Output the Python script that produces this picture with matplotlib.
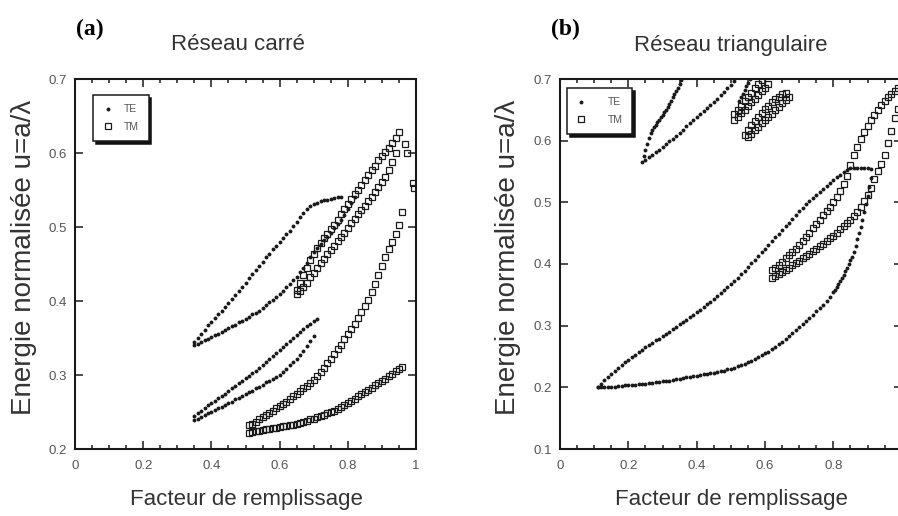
import matplotlib
matplotlib.use("Agg")
import matplotlib.pyplot as plt
from matplotlib.ticker import MultipleLocator

plt.rcParams['font.family'] = ['Liberation Sans', 'DejaVu Sans']

# ---------------------------------------------------------------
# (a) square lattice : gap edges vs filling factor
# ---------------------------------------------------------------
ff_a_te1_up = [0.35, 0.36, 0.37, 0.38, 0.39, 0.40, 0.41, 0.42, 0.43, 0.44,
               0.45, 0.46, 0.47, 0.48, 0.49, 0.50, 0.51, 0.52, 0.53, 0.54,
               0.55, 0.56, 0.57, 0.58, 0.59, 0.60, 0.61, 0.62, 0.63, 0.64,
               0.65, 0.66, 0.67, 0.68, 0.69, 0.70, 0.71, 0.72, 0.73, 0.74,
               0.75, 0.76, 0.77, 0.78]
te1_upper_a = [.345, .350, .356, .361, .367, .372, .377, .382, .387, .392,
               .397, .403, .408, .414, .419, .425, .431, .436, .442, .447,
               .453, .459, .464, .470, .475, .480, .485, .490, .495, .501,
               .507, .513, .519, .524, .528, .531, .533, .535, .536, .537,
               .538, .539, .540, .541]

ff_a_te1_low = [0.35, 0.36, 0.37, 0.38, 0.39, 0.40, 0.41, 0.42, 0.43, 0.44,
                0.45, 0.46, 0.47, 0.48, 0.49, 0.50, 0.51, 0.52, 0.53, 0.54,
                0.55, 0.56, 0.57, 0.58, 0.59, 0.60, 0.61, 0.62, 0.63, 0.64,
                0.65, 0.66, 0.67, 0.68, 0.69, 0.70, 0.71, 0.72, 0.73, 0.74,
                0.75, 0.76, 0.77, 0.78, 0.79, 0.80, 0.81, 0.82]
te1_lower_a = [.340, .342, .344, .347, .349, .351, .354, .356, .358, .361,
               .363, .366, .368, .371, .373, .376, .379, .382, .384, .387,
               .391, .394, .398, .402, .406, .410, .414, .419, .423, .428,
               .433, .439, .445, .452, .459, .466, .471, .477, .482, .487,
               .492, .498, .504, .510, .516, .524, .532, .540]

ff_a_te2_up = [0.35, 0.36, 0.37, 0.38, 0.39, 0.40, 0.41, 0.42, 0.43, 0.44,
               0.45, 0.46, 0.47, 0.48, 0.49, 0.50, 0.51, 0.52, 0.53, 0.54,
               0.55, 0.56, 0.57, 0.58, 0.59, 0.60, 0.61, 0.62, 0.63, 0.64,
               0.65, 0.66, 0.67, 0.68, 0.69, 0.70, 0.71]
te2_upper_a = [.245, .249, .252, .255, .259, .262, .265, .269, .272, .275,
               .279, .282, .285, .289, .292, .296, .299, .303, .306, .310,
               .314, .318, .322, .326, .330, .334, .338, .342, .346, .350,
               .354, .358, .362, .366, .369, .373, .376]

ff_a_te2_low = [0.35, 0.36, 0.37, 0.38, 0.39, 0.40, 0.41, 0.42, 0.43, 0.44,
                0.45, 0.46, 0.47, 0.48, 0.49, 0.50, 0.51, 0.52, 0.53, 0.54,
                0.55, 0.56, 0.57, 0.58, 0.59, 0.60, 0.61, 0.62, 0.63, 0.64,
                0.65, 0.66, 0.67, 0.68, 0.69, 0.70]
te2_lower_a = [.239, .241, .243, .246, .248, .250, .253, .255, .257, .260,
               .262, .264, .267, .269, .272, .274, .277, .279, .282, .284,
               .287, .290, .292, .295, .297, .300, .304, .308, .313, .317,
               .322, .327, .333, .339, .346, .353]

ff_a_tm1 = [0.51, 0.52, 0.53, 0.54, 0.55, 0.56, 0.57, 0.58, 0.59,
            0.60, 0.61, 0.62, 0.63, 0.64, 0.65, 0.66, 0.67, 0.68, 0.69,
            0.70, 0.71, 0.72, 0.73, 0.74, 0.75, 0.76, 0.77, 0.78, 0.79,
            0.80, 0.81, 0.82, 0.83, 0.84, 0.85, 0.86, 0.87, 0.88, 0.89,
            0.90, 0.91, 0.92, 0.93, 0.94, 0.95, 0.96]
tm1_lower_a = [.222, .223, .224, .225, .226, .227, .227, .228, .229,
               .230, .231, .231, .232, .233, .234, .235, .237, .238, .240,
               .241, .243, .245, .246, .248, .250, .252, .254, .257, .259,
               .262, .265, .268, .271, .274, .277, .280, .283, .286, .289,
               .292, .295, .299, .302, .305, .308, .311]
tm1_upper_a = [.232, .234, .237, .240, .243, .246, .249, .252, .255,
               .258, .261, .264, .268, .271, .274, .278, .282, .285, .289,
               .293, .299, .304, .310, .316, .322, .328, .335, .341, .348,
               .355, .362, .369, .377, .385, .393, .402, .412, .423, .435,
               .447, .459, .470, .480, .490, .503, .520]

ff_a_tm2_up = [0.65, 0.66, 0.67, 0.68, 0.69,
               0.70, 0.71, 0.72, 0.73, 0.74, 0.75, 0.76, 0.77, 0.78, 0.79,
               0.80, 0.81, 0.82, 0.83, 0.84, 0.85, 0.86, 0.87, 0.88, 0.89,
               0.90, 0.91, 0.92, 0.93, 0.94, 0.95]
tm2_upper_a = [.415, .425, .435, .445, .455,
               .464, .471, .478, .485, .491, .497, .503, .510, .517, .524,
               .531, .538, .544, .550, .557, .564, .570, .577, .583, .590,
               .596, .602, .607, .613, .620, .628]

ff_a_tm2_low = [0.65, 0.66, 0.67, 0.68, 0.69,
                0.70, 0.71, 0.72, 0.73, 0.74, 0.75, 0.76, 0.77, 0.78, 0.79,
                0.80, 0.81, 0.82, 0.83, 0.84, 0.85, 0.86, 0.87, 0.88, 0.89,
                0.90, 0.91, 0.92, 0.93, 0.94]
tm2_lower_a = [.410, .413, .419, .425, .432,
               .438, .444, .451, .457, .463, .469, .475, .481, .487, .492,
               .498, .505, .511, .517, .523, .529, .535, .541, .547, .554,
               .561, .568, .577, .588, .600]

ff_a_tm_edge = [0.968, 0.975, 0.990, 0.995]
tm_edge_a = [.612, .600, .560, .553]

# ---------------------------------------------------------------
# (b) triangular lattice
# ---------------------------------------------------------------
ff_b_te1_up = [0.11, 0.12, 0.13, 0.14, 0.15, 0.16, 0.17, 0.18, 0.19,
               0.20, 0.21, 0.22, 0.23, 0.24, 0.25, 0.26, 0.27, 0.28, 0.29,
               0.30, 0.31, 0.32, 0.33, 0.34, 0.35, 0.36, 0.37, 0.38, 0.39,
               0.40, 0.41, 0.42, 0.43, 0.44, 0.45, 0.46, 0.47, 0.48, 0.49,
               0.50, 0.51, 0.52, 0.53, 0.54, 0.55, 0.56, 0.57, 0.58, 0.59,
               0.60, 0.61, 0.62, 0.63, 0.64, 0.65, 0.66, 0.67, 0.68, 0.69,
               0.70, 0.71, 0.72, 0.73, 0.74, 0.75, 0.76, 0.77, 0.78, 0.79,
               0.80, 0.81, 0.82, 0.83, 0.84, 0.85, 0.86, 0.87, 0.88, 0.89,
               0.90, 0.91]
te1_upper_b = [.200, .206, .212, .217, .222, .227, .232, .236, .241,
               .245, .249, .253, .257, .261, .265, .268, .272, .276, .279,
               .283, .287, .290, .294, .298, .302, .306, .310, .314, .318,
               .322, .326, .330, .335, .339, .344, .348, .353, .358, .363,
               .368, .373, .378, .384, .389, .395, .401, .407, .413, .419,
               .425, .431, .437, .443, .449, .455, .461, .467, .473, .479,
               .486, .491, .497, .502, .507, .512, .517, .522, .527, .532,
               .537, .541, .545, .549, .552, .555, .555, .555, .555, .555,
               .555, .554]

ff_b_te1_low = [0.11, 0.12, 0.13, 0.14, 0.15, 0.16, 0.17, 0.18, 0.19,
                0.20, 0.21, 0.22, 0.23, 0.24, 0.25, 0.26, 0.27, 0.28, 0.29,
                0.30, 0.31, 0.32, 0.33, 0.34, 0.35, 0.36, 0.37, 0.38, 0.39,
                0.40, 0.41, 0.42, 0.43, 0.44, 0.45, 0.46, 0.47, 0.48, 0.49,
                0.50, 0.51, 0.52, 0.53, 0.54, 0.55, 0.56, 0.57, 0.58, 0.59,
                0.60, 0.61, 0.62, 0.63, 0.64, 0.65, 0.66, 0.67, 0.68, 0.69,
                0.70, 0.71, 0.72, 0.73, 0.74, 0.75, 0.76, 0.77, 0.78, 0.79,
                0.80, 0.805, 0.81, 0.815, 0.82, 0.825, 0.83, 0.835, 0.84,
                0.845, 0.85, 0.855, 0.86, 0.865, 0.87, 0.875, 0.88, 0.885,
                0.89, 0.895, 0.90, 0.905, 0.91]
te1_lower_b = [.200, .200, .200, .201, .201, .201, .202, .202, .203,
               .203, .204, .204, .205, .205, .206, .207, .207, .208, .209,
               .210, .210, .211, .212, .213, .214, .215, .216, .217, .218,
               .219, .220, .221, .222, .223, .224, .225, .226, .227, .229,
               .230, .232, .234, .236, .238, .241, .243, .246, .249, .252,
               .255, .258, .262, .266, .270, .274, .278, .283, .288, .293,
               .298, .303, .308, .313, .318, .323, .329, .334, .340, .347,
               .354, .358, .362, .367, .372, .377, .382, .388, .394,
               .400, .406, .412, .420, .430, .440, .450, .460, .472,
               .484, .497, .510, .525, .540]

ff_b_te2_left = [0.240, 0.245, 0.250, 0.255, 0.260, 0.265, 0.270, 0.275,
                 0.280, 0.285, 0.290, 0.295, 0.300, 0.305, 0.310, 0.315,
                 0.320, 0.325, 0.330, 0.335, 0.340, 0.345, 0.350, 0.355]
te2_left_b = [.565, .575, .585, .595, .604, .612, .618, .622,
              .626, .630, .634, .638, .642, .646, .650, .655,
              .660, .665, .670, .675, .680, .686, .692, .698]

ff_b_te2_right = [0.25, 0.26, 0.27, 0.28, 0.29, 0.30, 0.31, 0.32, 0.33,
                  0.34, 0.35, 0.36, 0.37, 0.38, 0.39, 0.40, 0.41, 0.42,
                  0.43, 0.44, 0.45, 0.46, 0.47, 0.48, 0.49, 0.50, 0.51]
te2_right_b = [.569, .573, .577, .581, .585, .590, .594, .599, .603,
               .608, .613, .618, .623, .628, .633, .638, .643, .648,
               .653, .658, .663, .668, .674, .679, .685, .691, .697]

ff_b_te3 = [0.525, 0.530, 0.535, 0.540, 0.545, 0.550, 0.555]
te3_b = [.664, .670, .676, .682, .688, .694, .700]

ff_b_c1_up = [0.51, 0.52, 0.53, 0.54, 0.55, 0.56, 0.57, 0.58, 0.59]
tm_c1_upper_b = [.643, .650, .657, .664, .671, .678, .685, .692, .699]
ff_b_c1_low = [0.51, 0.52, 0.53, 0.54, 0.55, 0.56, 0.57, 0.58, 0.59, 0.60, 0.61]
tm_c1_lower_b = [.634, .639, .645, .650, .656, .662, .668, .674, .680, .686, .692]

ff_b_c2_up = [0.54, 0.55, 0.56, 0.57, 0.58, 0.59, 0.60, 0.61, 0.62, 0.63,
              0.64, 0.65, 0.66]
tm_c2_upper_b = [.610, .618, .625, .632, .639, .645, .651, .657, .662, .667,
                 .671, .675, .678]
ff_b_c2_low = [0.55, 0.56, 0.57, 0.58, 0.59, 0.60, 0.61, 0.62, 0.63, 0.64,
               0.65, 0.66, 0.67]
tm_c2_lower_b = [.606, .611, .617, .622, .628, .633, .639, .644, .650, .655,
                 .661, .666, .671]

ff_b_tm = [0.62, 0.63, 0.64, 0.65, 0.66, 0.67, 0.68, 0.69,
           0.70, 0.71, 0.72, 0.73, 0.74, 0.75, 0.76, 0.77, 0.78, 0.79,
           0.80, 0.81, 0.82, 0.83, 0.84, 0.85, 0.86, 0.87, 0.88, 0.89,
           0.90, 0.91, 0.92, 0.93, 0.94, 0.95, 0.96, 0.97, 0.98, 0.99]
tm_upper_b = [.390, .394, .399, .404, .409, .414, .419, .425,
              .431, .437, .444, .451, .458, .465, .472, .479, .486, .493,
              .500, .509, .519, .530, .543, .560, .577, .590, .602, .614,
              .624, .633, .642, .650, .658, .665, .671, .676, .681, .685]
tm_lower_b = [.378, .381, .384, .387, .391, .394, .398, .401,
              .405, .409, .413, .417, .421, .425, .429, .433, .437, .442,
              .446, .451, .456, .461, .466, .472, .478, .485, .493, .502,
              .512, .524, .538, .551, .562, .576, .596, .616, .636, .652]

# axis ticks
x_ticks = [0, 0.2, 0.4, 0.6, 0.8, 1.0]
x_ticklabels_a = ['0', '0.2', '0.4', '0.6', '0.8', '1']
x_ticklabels_b = ['0', '0.2', '0.4', '0.6', '0.8', '']   # "1" falls off the page
y_ticks_a = [0.2, 0.3, 0.4, 0.5, 0.6, 0.7]
y_ticks_b = [0.1, 0.2, 0.3, 0.4, 0.5, 0.6, 0.7]

INK = '#1a1a1a'
TE_STYLE = dict(ls='none', marker='o', ms=2.8, mfc=INK, mec=INK, mew=0)
TM_STYLE = dict(ls='none', marker='s', ms=4.8, mfc='none', mec=INK, mew=0.9)

W, H = 898, 516
fig = plt.figure(figsize=(W / 100, H / 100), dpi=100)


def px_axes(left, top, right, bottom):
    return fig.add_axes([left / W, 1 - bottom / H, (right - left) / W,
                         (bottom - top) / H])


def style_axes(ax, yticks, xlabels):
    ax.set_xlim(0, 1)
    ax.set_ylim(yticks[0], yticks[-1])
    ax.set_xticks(x_ticks)
    ax.set_xticklabels(xlabels)
    ax.set_yticks(yticks)
    ax.set_yticklabels([f'{v:.1f}' for v in yticks])
    ax.xaxis.set_minor_locator(MultipleLocator(0.05))
    ax.tick_params(which='both', direction='in', top=True, right=True,
                   color=INK, width=1.1, labelsize=9.5, labelcolor='#555555')
    ax.tick_params(which='major', length=6)
    ax.tick_params(which='minor', length=3.2)
    ax.tick_params(axis='x', pad=8)
    ax.tick_params(axis='y', pad=6)
    for sp in ax.spines.values():
        sp.set_linewidth(1.5)
        sp.set_color(INK)


def add_legend(ax, anchor, textpad):
    leg = ax.legend(loc='upper left', bbox_to_anchor=anchor,
                    fontsize=7.5, frameon=True, fancybox=False,
                    shadow={'color': '#111111', 'alpha': 1.0, 'ox': 2, 'oy': -2},
                    edgecolor=INK, borderpad=0.9, labelspacing=0.75,
                    handlelength=1.0, handletextpad=textpad, borderaxespad=0)
    leg.get_frame().set_linewidth(1.1)
    for t in leg.get_texts():
        t.set_color('#555555')


# (a)
ax_a = px_axes(75, 79, 416, 449)
ax_a.plot(ff_a_te1_up, te1_upper_a, label='TE', **TE_STYLE)
ax_a.plot(ff_a_te1_low, te1_lower_a, **TE_STYLE)
ax_a.plot(ff_a_te2_up, te2_upper_a, **TE_STYLE)
ax_a.plot(ff_a_te2_low, te2_lower_a, **TE_STYLE)
ax_a.plot(ff_a_tm1, tm1_lower_a, label='TM', **TM_STYLE)
ax_a.plot(ff_a_tm1, tm1_upper_a, **TM_STYLE)
ax_a.plot(ff_a_tm2_up, tm2_upper_a, **TM_STYLE)
ax_a.plot(ff_a_tm2_low, tm2_lower_a, **TM_STYLE)
ax_a.plot(ff_a_tm_edge, tm_edge_a, **TM_STYLE)
style_axes(ax_a, y_ticks_a, x_ticklabels_a)
add_legend(ax_a, (0.053, 0.957), 1.1)

# (b) - right spine sits just outside the canvas
ax_b = px_axes(560, 79, 901.7, 449)
ax_b.plot(ff_b_te1_up, te1_upper_b, label='TE', **TE_STYLE)
ax_b.plot(ff_b_te1_low, te1_lower_b, **TE_STYLE)
ax_b.plot(ff_b_te2_left, te2_left_b, **TE_STYLE)
ax_b.plot(ff_b_te2_right, te2_right_b, **TE_STYLE)
ax_b.plot(ff_b_te3, te3_b, **TE_STYLE)
ax_b.plot(ff_b_tm, tm_upper_b, label='TM', **TM_STYLE)
ax_b.plot(ff_b_tm, tm_lower_b, **TM_STYLE)
ax_b.plot(ff_b_c1_up, tm_c1_upper_b, **TM_STYLE)
ax_b.plot(ff_b_c1_low, tm_c1_lower_b, **TM_STYLE)
ax_b.plot(ff_b_c2_up, tm_c2_upper_b, **TM_STYLE)
ax_b.plot(ff_b_c2_low, tm_c2_lower_b, **TM_STYLE)
style_axes(ax_b, y_ticks_b, x_ticklabels_b)
add_legend(ax_b, (0.02, 0.976), 2.0)

# titles, panel letters and axis labels
def ftext(x, y, s, **kw):
    fig.text(x / W, 1 - y / H, s, ha='center', va='center', **kw)


ftext(90, 29, '(a)', family='Liberation Serif', weight='bold', fontsize=17)
ftext(565, 29, '(b)', family='Liberation Serif', weight='bold', fontsize=17)
ftext(238, 45, 'Réseau carré', fontsize=16, color='#333333')
ftext(731, 45, 'Réseau triangulaire', fontsize=16, color='#333333')
ftext(246, 500, 'Facteur de remplissage', fontsize=16, color='#333333')
ftext(731, 500, 'Facteur de remplissage', fontsize=16, color='#333333')
ftext(24, 257, 'Energie normalisée u=a/λ', fontsize=20, rotation=90, color='#333333')
ftext(508, 257, 'Energie normalisée u=a/λ', fontsize=20, rotation=90, color='#333333')

fig.savefig('out.png', dpi=100, facecolor='white')
